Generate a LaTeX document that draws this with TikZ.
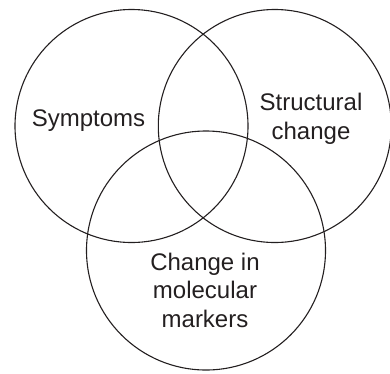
\documentclass[tikz,border=0pt]{standalone}
\usepackage{fontspec}
\setmainfont{Liberation Sans}
\usepackage{tikz}
\definecolor{inkA}{RGB}{35,31,32}

\begin{document}
\begin{tikzpicture}[x=1pt,y=-1pt, setnode/.style={draw=inkA,line width=1.1pt,circle,inner sep=0pt,minimum size=#1}, labnode/.style={text=inkA,inner sep=0pt,align=center,font=\fontsize{24}{28.5}\selectfont}]
            \useasboundingbox (0,0) rectangle (390,373);
            \node[setnode=233pt] (symp) at (131.5,126) {};
            \node[setnode=233pt] (struc) at (274.8,126) {};
            \node[setnode=239pt] (molec) at (206,250.5) {};

            \node[labnode,anchor=base] (sympL) at (88.5,126.7) {Symptoms};
            \node[labnode] (strucL) at (311,119) {Structural\\change};
            \node[labnode] (molecL) at (205,290) {Change in\\molecular\\markers};
        \end{tikzpicture}
\end{document}
